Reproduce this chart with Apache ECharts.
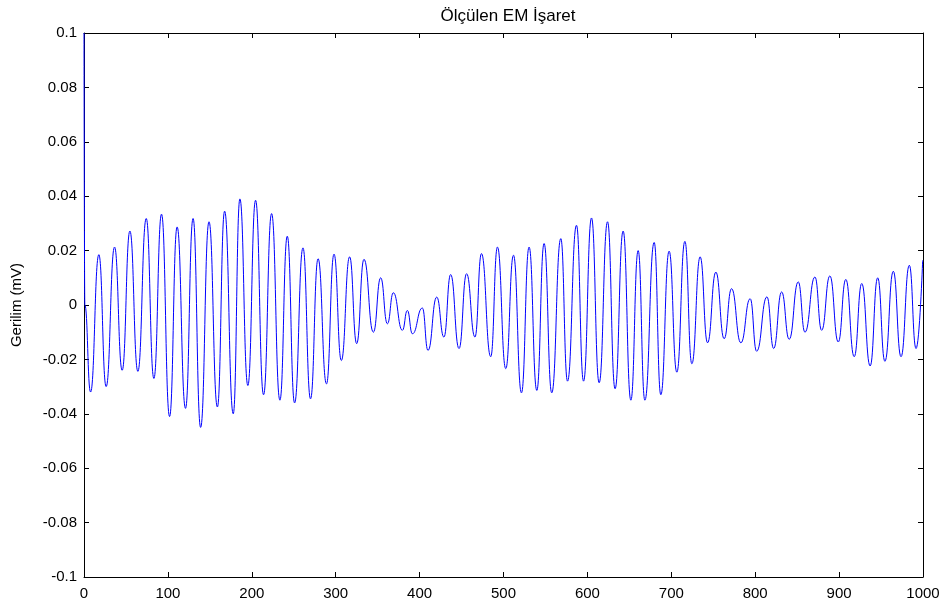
<!DOCTYPE html>
<html><head><meta charset="utf-8">
<script src="https://cdn.jsdelivr.net/npm/echarts@6/dist/echarts.min.js"></script>
<style>html,body{margin:0;padding:0;background:#fff}#c{width:949px;height:610px}</style>
</head><body><div id="c"></div>
<script>
// Sample index of each read-off peak / trough
var sampleIdx = [0,1,7.8,17.7,26.4,36.4,45.5,54.7,64.2,74.2,
83.3,92.4,102,111,121,130,139,149,159,167.6,
177.9,185.8,195.3,204.5,214,223.6,233.5,242.3,251,261,
270,279,289,298,306.7,316.6,325,333.7,344.9,353.6,
361.6,368.7,379.5,385.4,391.4,403.3,410,420.4,429,437,
447,456,466,473.7,484.8,492.8,502.7,511.9,521.4,530.5,
539.7,548.4,557.5,568.3,576.3,587,595.4,604.9,614,624,
633,642.6,651.8,660.5,668.5,679.6,687.5,697.4,706.6,716.2,
724.5,734.4,743.2,753.1,763,771.8,782.9,794,801.7,814,
822,831.5,840.5,851.3,859.3,871.2,879.2,889,899,908,
918,927,937,946,954.6,964.6,973.8,983.7,991.7,999.6];
// Voltage (mV) at those samples
var voltage = [0.1,0,-0.032,0.0185,-0.030,0.0213,-0.024,0.0272,-0.0244,0.0318,
-0.027,0.0334,-0.041,0.0287,-0.038,0.0318,-0.045,0.0306,-0.0375,0.0345,
-0.040,0.039,-0.0296,0.0385,-0.033,0.0336,-0.035,0.0253,-0.036,0.021,
-0.0345,0.017,-0.029,0.0187,-0.0204,0.0177,-0.0142,0.0168,-0.010,0.010,
-0.0069,0.0045,-0.0093,-0.002,-0.0106,-0.0011,-0.0167,0.0029,-0.0118,0.0112,
-0.016,0.0115,-0.0118,0.0189,-0.019,0.0213,-0.0234,0.0183,-0.0323,0.0213,
-0.0314,0.0226,-0.0323,0.0244,-0.028,0.0293,-0.028,0.032,-0.0286,0.0306,
-0.0308,0.0272,-0.035,0.020,-0.035,0.023,-0.033,0.0198,-0.0247,0.0234,
-0.0216,0.0177,-0.0139,0.0121,-0.0124,0.006,-0.0139,0.0023,-0.017,0.003,
-0.016,0.0048,-0.0126,0.0085,-0.010,0.0103,-0.0093,0.0107,-0.0136,0.0094,
-0.019,0.0079,-0.0224,0.010,-0.0207,0.0124,-0.019,0.0146,-0.016,0.0164];
var xTicks = [0,100,200,300,400,500,600,700,800,900,1000];
var yTicks = [-0.1,-0.08,-0.06,-0.04,-0.02,0,0.02,0.04,0.06,0.08,0.1];

var pts = sampleIdx.map(function(x,i){return [x, voltage[i]];});
var font = 'Liberation Sans, Arial, sans-serif';
var fmtY = function(v){ return String(+v.toFixed(2)); };
var fmtX = function(v){ return String(v); };
var chart = echarts.init(document.getElementById('c'));
var axLine = {show:true, onZero:false, lineStyle:{color:'#000', width:1}};
var tick = {show:true, inside:true, length:5, lineStyle:{color:'#000'}};
chart.setOption({
  animation:false,
  title:{text:'Ölçülen EM İşaret', left:503, textAlign:'center', top:3,
    textStyle:{fontFamily:font, fontSize:17, fontWeight:'normal', color:'#000'}},
  grid:{left:84, right:26, top:33, bottom:33},
  xAxis:[
    {type:'value', min:xTicks[0], max:xTicks[xTicks.length-1], interval:100, position:'bottom',
     axisLine:axLine, axisTick:tick, splitLine:{show:false},
     axisLabel:{color:'#000', fontFamily:font, fontSize:15, margin:9, formatter:fmtX}},
    {type:'value', min:xTicks[0], max:xTicks[xTicks.length-1], interval:100, position:'top',
     axisLine:axLine, axisTick:tick, splitLine:{show:false}, axisLabel:{show:false}}
  ],
  yAxis:[
    {type:'value', min:yTicks[0], max:yTicks[yTicks.length-1], interval:0.02, position:'left',
     name:'Gerilim (mV)', nameLocation:'middle', nameGap:60, nameRotate:90,
     nameTextStyle:{color:'#000', fontFamily:font, fontSize:15},
     axisLine:axLine, axisTick:tick, splitLine:{show:false},
     axisLabel:{color:'#000', fontFamily:font, fontSize:15, margin:7, formatter:fmtY}},
    {type:'value', min:yTicks[0], max:yTicks[yTicks.length-1], interval:0.02, position:'right',
     axisLine:axLine, axisTick:tick, splitLine:{show:false}, axisLabel:{show:false}}
  ],
  series:[{type:'line', data:pts, showSymbol:false, smooth:0.5, smoothMonotone:'x',
    lineStyle:{color:'#0000ff', width:1}, clip:true, z:3}]
});
</script></body></html>
